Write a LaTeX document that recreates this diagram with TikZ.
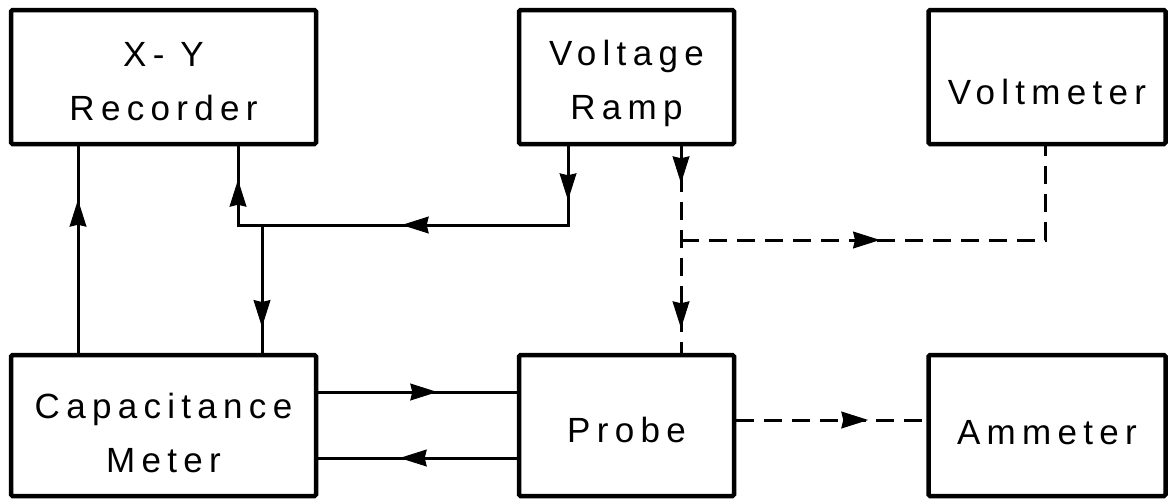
\documentclass[tikz,border=0pt]{standalone}
\usepackage{fontspec}
\setmainfont{Liberation Sans}[LetterSpace=18]
\usetikzlibrary{arrows.meta,decorations.markings}

\newcommand{\dropped}[2]{\raisebox{-#1}[\height][\depth]{#2}}

\tikzset{
  box/.style={draw, line width=4.5pt, rounded corners=1.5pt, align=center, inner sep=0pt,
    font=\fontsize{35}{54}\selectfont},
  wire/.style={line width=3pt, decoration=markings, postaction={decorate}},
  dashwire/.style={wire, dash pattern=on 18pt off 10pt},
  arrowat/.style={decoration={mark=at position #1 with
    {\arrow[line width=1pt]{Stealth[length=27pt 0 0,width=17pt 0 0,inset=2pt 0 0]}}}},
}

\begin{document}
\begin{tikzpicture}[x=1pt, y=-1pt, node distance=463pt]
        \useasboundingbox (0,0) rectangle (1169,499);

        \node[box, minimum width=305pt, minimum height=134pt] (rec) at (163.5,77) {\dropped{5pt}{X- Y}\\\dropped{5pt}{Recorder}};
        \node[box, minimum width=215pt, minimum height=134pt, right of=rec] (ramp) {\dropped{6pt}{Voltage}\\\dropped{6pt}{Ramp}};
        \node[box, minimum width=237pt, minimum height=134pt, right of=ramp, xshift=-42.5pt] (volt) {\dropped{15pt}{Voltmeter}};
        \node[box, minimum width=305pt, minimum height=141pt, below of=rec, yshift=114.5pt] (cap) {\dropped{7pt}{Capacitance}\\\dropped{7pt}{Meter}};
        \node[box, minimum width=215pt, minimum height=141pt, right of=cap] (probe) {\dropped{4.5pt}{Probe}};
        \node[box, minimum width=237pt, minimum height=141pt, right of=probe, xshift=-42.5pt] (amm) {\dropped{7pt}{Ammeter}};

        \coordinate (recA) at ([xshift=-85.5pt]rec.south);
        \coordinate (recB) at ([xshift=74.5pt]rec.south);
        \coordinate (capA) at ([xshift=-85.5pt]cap.north);
        \coordinate (capB) at ([xshift=98.5pt]cap.north);
        \coordinate (rampA) at ([xshift=-58.5pt]ramp.south);
        \coordinate (rampB) at ([xshift=54.5pt]ramp.south);
        \coordinate (probeT) at ([xshift=54.5pt]probe.north);
        \coordinate (voltS) at ([xshift=-2pt]volt.south);
        \coordinate (bus) at (238,225);
        \coordinate (tap) at (681,240);

        \draw[wire, arrowat=153pt] (capA) -- (recA);
        \draw[wire, arrowat=54pt, arrowat=245pt, arrowat=454pt] (rampA) |- (bus) -- (recB);
        \draw[wire, arrowat=102pt] (capB |- bus) -- (capB);
        \draw[wire, arrowat=119pt] ([yshift=33.5pt]cap.east) -- ([yshift=33.5pt]probe.west);
        \draw[wire, arrowat=117pt] ([yshift=-32.5pt]probe.west) -- ([yshift=-32.5pt]cap.east);
        \draw[dashwire, arrowat=37pt, arrowat=182pt] (rampB) -- (probeT);
        \draw[dashwire, arrowat=199pt] (tap) -| (voltS);
        \draw[dashwire, arrowat=132pt] ([yshift=5.5pt]probe.east) -- ([yshift=5.5pt]amm.west);
    \end{tikzpicture}
\end{document}
